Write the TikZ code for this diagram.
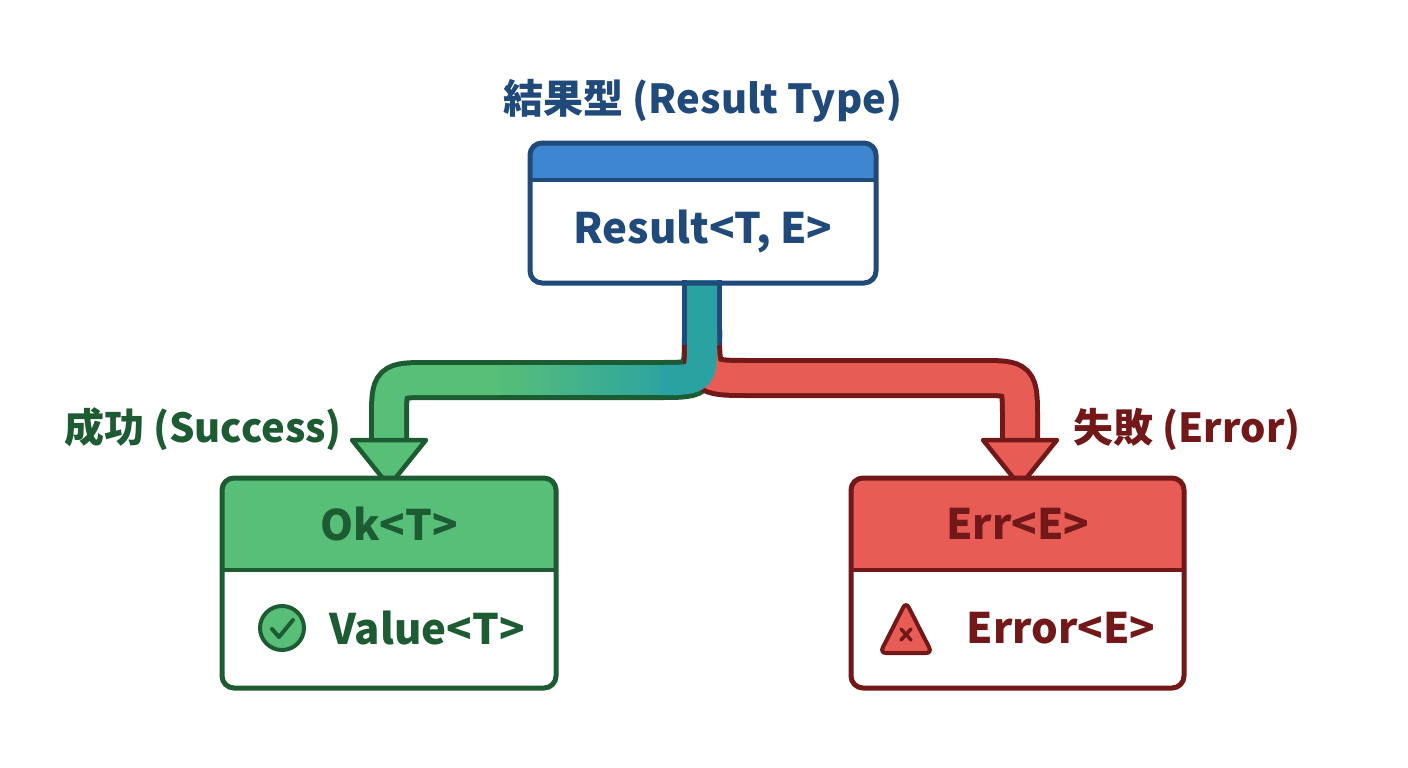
\documentclass[tikz,border=0pt]{standalone}
\usepackage{fontspec}
\setmainfont{Noto Sans CJK JP}
\usetikzlibrary{calc}
\definecolor{dblue}{HTML}{1F4A7A}
\definecolor{mblue}{HTML}{3F86D0}
\definecolor{dgreen}{HTML}{1D5C33}
\definecolor{mgreen}{HTML}{58BF78}
\definecolor{dred}{HTML}{721818}
\definecolor{mred}{HTML}{E85C56}
\definecolor{teal}{HTML}{2AA2A2}
\begin{document}
\begin{tikzpicture}[x=1pt,y=-1pt,
  box/.style={draw=#1,line width=5pt,rounded corners=12pt},
  lbl/.style={font=\bfseries\fontsize{42}{48}\selectfont},
  ttl/.style={font=\bfseries\fontsize{40}{46}\selectfont}]
\useasboundingbox[fill=white] (0,0) rectangle (1408,768);
% arrows outlines
\draw[dgreen,line width=40pt] (702,330) .. controls (702,380) .. (660,380) -- (430,380) .. controls (389,380) .. (389,420) -- (389,448);
\draw[dred,line width=40pt] (702,330) .. controls (702,378) .. (750,378) -- (980,378) .. controls (1020,378) .. (1020,420) -- (1020,448);
\draw[dblue,line width=40pt] (702,280) -- (702,345);
\draw[mred,line width=30pt] (702,330) .. controls (702,378) .. (750,378) -- (980,378) .. controls (1020,378) .. (1020,420) -- (1020,452);
\draw[mgreen,line width=30pt] (500,380) -- (430,380) .. controls (389,380) .. (389,420) -- (389,452);
\foreach \i in {0,...,17}{
  \pgfmathsetmacro\p{(\i+1)*100/18}
  \pgfmathsetmacro\a{500+\i*10}
  \draw[teal!\p!mgreen,line width=30pt] (\a,380) -- (\a+11,380);}
\draw[teal,line width=30pt] (702,280) -- (702,340) .. controls (702,380) .. (660,380) -- (679,380);
% arrowheads
\draw[dgreen,line width=4.5pt,fill=mgreen,line join=round] (352,440) -- (426,440) -- (389,486) -- cycle;
\draw[dred,line width=4.5pt,fill=mred,line join=round] (983,440) -- (1057,440) -- (1020,486) -- cycle;
% top box
\node[ttl,text=dblue] (title) at (703,101) {結果型 (Result Type)};
\fill[mblue,rounded corners=12pt] (530,143) rectangle (876,180);
\fill[mblue] (530,165) rectangle (876,180);
\draw[dblue,line width=4.5pt] (530,180) -- (876,180);
\draw[box=dblue] (530,143) rectangle (876,283);
\node[lbl,text=dblue] (res) at (703,231) {Result<T, E>};
% green box
\node[ttl,text=dgreen] (succ) at (203,429) {成功 (Success)};
\begin{scope}
\clip[rounded corners=12pt] (222,478) rectangle (556,688);
\fill[mgreen] (222,478) rectangle (556,570);
\end{scope}
\draw[dgreen,line width=4.5pt] (222,570) -- (556,570);
\draw[box=dgreen] (222,478) rectangle (556,688);
\node[lbl,text=dgreen] (ok) at (389,524) {Ok<T>};
\node[circle,draw=dgreen,fill=mgreen,line width=4pt,minimum size=44pt,inner sep=0] (chk) at (282,628) {};
\draw[dgreen,line width=4pt,line cap=round,line join=round] (272,629) -- (279,637) -- (293,620);
\node[lbl,text=dgreen,anchor=west] (val) at (326,628) {Value<T>};
% red box
\node[ttl,text=dred] (err) at (1187,429) {失敗 (Error)};
\begin{scope}
\clip[rounded corners=12pt] (851,478) rectangle (1184,688);
\fill[mred] (851,478) rectangle (1184,570);
\end{scope}
\draw[dred,line width=4.5pt] (851,570) -- (1184,570);
\draw[box=dred] (851,478) rectangle (1184,688);
\node[lbl,text=dred] (errt) at (1018,524) {Err<E>};
\draw[dred,fill=mred,line width=4pt,rounded corners=6pt] (906,602) -- (932,653) -- (880,653) -- cycle;
\draw[dred,line width=3.5pt,line cap=round] (901,629) -- (911,640) (911,629) -- (901,640);
\node[lbl,text=dred,anchor=west] (errv) at (963,628) {Error<E>};
\end{tikzpicture}
\end{document}
